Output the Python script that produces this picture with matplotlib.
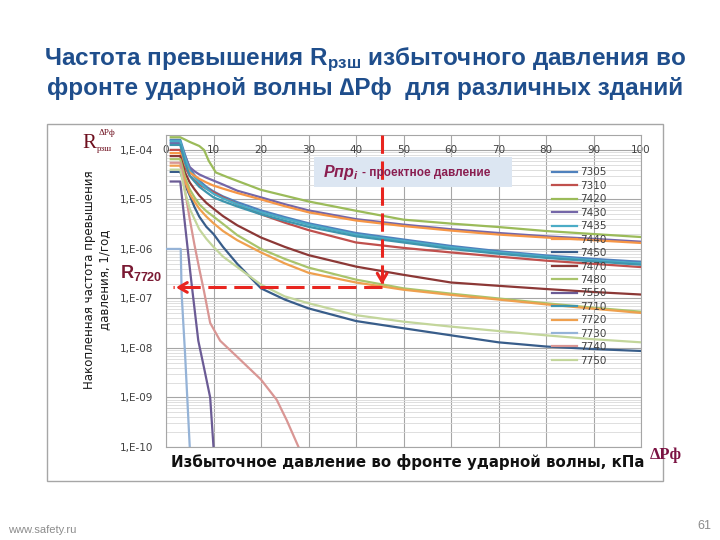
import matplotlib
matplotlib.use('Agg')
import numpy as np
import matplotlib.pyplot as plt
from matplotlib.patches import Rectangle
from matplotlib.ticker import LogLocator, FuncFormatter, NullFormatter, MultipleLocator

plt.rcParams['font.family'] = ['DejaVu Sans']
plt.rcParams['mathtext.fontset'] = 'custom'
plt.rcParams['mathtext.rm'] = 'Liberation Sans:bold'
plt.rcParams['mathtext.it'] = 'Liberation Sans:bold:italic'
plt.rcParams['mathtext.bf'] = 'Liberation Sans:bold'

# --- данные ---
x_std = [1, 3, 4, 5, 6, 7, 8.5, 10, 12, 15, 20, 25, 30, 40, 50, 60, 70, 80, 90, 100]

y_7305 = [1.6e-4, 1.6e-4, 8e-5, 4.2e-5, 3.1e-5, 2.4e-5, 1.8e-5, 1.45e-5, 1.15e-5, 8.8e-6, 6.0e-6, 4.4e-6, 3.3e-6, 2.1e-6, 1.55e-6, 1.15e-6, 9.0e-7, 7.4e-7, 6.3e-7, 5.5e-7]
y_7310 = [1.0e-4, 1.0e-4, 4.5e-5, 3.0e-5, 2.4e-5, 2.0e-5, 1.65e-5, 1.4e-5, 1.1e-5, 8.0e-6, 5.0e-6, 3.4e-6, 2.4e-6, 1.35e-6, 1.05e-6, 8.5e-7, 7.0e-7, 5.8e-7, 5.0e-7, 4.3e-7]
x_7420 = [1, 3, 5, 7, 8, 9, 10.5, 13, 20, 30, 40, 50, 60, 70, 80, 90, 100]
y_7420 = [1.8e-4, 1.8e-4, 1.45e-4, 1.2e-4, 1.0e-4, 6e-5, 3.5e-5, 2.8e-5, 1.56e-5, 9.1e-6, 5.9e-6, 3.9e-6, 3.25e-6, 2.77e-6, 2.3e-6, 2.0e-6, 1.74e-6]
y_7430 = [1.38e-4, 1.38e-4, 7.5e-5, 4.5e-5, 3.7e-5, 3.2e-5, 2.75e-5, 2.4e-5, 2.0e-5, 1.5e-5, 1.1e-5, 8.0e-6, 6.0e-6, 4.0e-6, 3.1e-6, 2.5e-6, 2.1e-6, 1.8e-6, 1.6e-6, 1.4e-6]
y_7435 = [1.5e-4, 1.5e-4, 7e-5, 3.8e-5, 2.8e-5, 2.2e-5, 1.65e-5, 1.3e-5, 1.05e-5, 8.0e-6, 5.5e-6, 4.1e-6, 3.1e-6, 1.95e-6, 1.45e-6, 1.08e-6, 8.5e-7, 7.0e-7, 5.9e-7, 5.1e-7]
y_7440 = [8.6e-5, 8.6e-5, 5.0e-5, 3.5e-5, 3.0e-5, 2.6e-5, 2.2e-5, 1.9e-5, 1.65e-5, 1.35e-5, 1.0e-5, 7.3e-6, 5.5e-6, 3.75e-6, 2.9e-6, 2.35e-6, 1.95e-6, 1.7e-6, 1.5e-6, 1.32e-6]
y_7450 = [3.6e-5, 3.6e-5, 2.0e-5, 1.2e-5, 7e-6, 4.5e-6, 2.8e-6, 2.0e-6, 1.1e-6, 5.0e-7, 1.6e-7, 9.5e-8, 6.3e-8, 3.5e-8, 2.5e-8, 1.8e-8, 1.3e-8, 1.07e-8, 9.5e-9, 8.7e-9]
y_7470 = [7.5e-5, 7.5e-5, 3.5e-5, 2.2e-5, 1.6e-5, 1.2e-5, 8.5e-6, 6.5e-6, 4.6e-6, 3.0e-6, 1.7e-6, 1.1e-6, 7.5e-7, 4.4e-7, 3.0e-7, 2.1e-7, 1.8e-7, 1.55e-7, 1.35e-7, 1.2e-7]
y_7480 = [6.5e-5, 6.5e-5, 2.8e-5, 1.6e-5, 1.1e-5, 8e-6, 5.8e-6, 4.5e-6, 3.2e-6, 1.9e-6, 1.0e-6, 6.3e-7, 4.2e-7, 2.4e-7, 1.6e-7, 1.25e-7, 1.0e-7, 8.0e-8, 6.5e-8, 5.4e-8]
x_7550 = [1, 3, 4, 5, 5.5, 6.8, 8, 9.3, 10]
y_7550 = [2.3e-5, 2.3e-5, 3.1e-6, 4.2e-7, 1.6e-7, 1.4e-8, 4e-9, 1e-9, 1e-10]
y_7710 = [1.26e-4, 1.26e-4, 5.5e-5, 3.0e-5, 2.3e-5, 1.8e-5, 1.4e-5, 1.1e-5, 9.2e-6, 7.2e-6, 5.0e-6, 3.7e-6, 2.8e-6, 1.8e-6, 1.35e-6, 1.0e-6, 8.0e-7, 6.6e-7, 5.6e-7, 4.8e-7]
y_7720 = [4.8e-5, 4.8e-5, 2.3e-5, 1.3e-5, 9e-6, 6.5e-6, 4.5e-6, 3.3e-6, 2.3e-6, 1.5e-6, 8.5e-7, 5.1e-7, 3.3e-7, 2.1e-7, 1.5e-7, 1.18e-7, 9.5e-8, 7.6e-8, 6.2e-8, 5.1e-8]
x_7730 = [0, 3.1, 3.3, 4, 5]
y_7730 = [1e-6, 1e-6, 1.2e-7, 8e-9, 1e-10]
x_7740 = [1, 3, 4, 5, 6, 7, 8, 9.3, 11.4, 15, 20, 23.3, 25.4, 27.9]
y_7740 = [5.5e-5, 5.5e-5, 1.5e-5, 4e-6, 1.2e-6, 4e-7, 1.4e-7, 3.2e-8, 1.4e-8, 6.6e-9, 2.3e-9, 9e-10, 3.5e-10, 1e-10]
y_7750 = [4.0e-5, 4.0e-5, 1.4e-5, 6.5e-6, 4.0e-6, 2.5e-6, 1.6e-6, 1.1e-6, 7.0e-7, 4.3e-7, 1.9e-7, 1.1e-7, 8.0e-8, 4.6e-8, 3.4e-8, 2.7e-8, 2.2e-8, 1.8e-8, 1.5e-8, 1.3e-8]

p_design = 45.5      # проектное давление, кПа
r_7720 = 1.67e-7     # R для 7720 при проектном давлении
arrow_end = 1.5

series = [
    ('7305', x_std, y_7305, '#4F81BD'),
    ('7310', x_std, y_7310, '#C0504D'),
    ('7420', x_7420, y_7420, '#9BBB59'),
    ('7430', x_std, y_7430, '#7466A8'),
    ('7435', x_std, y_7435, '#4BACC6'),
    ('7440', x_std, y_7440, '#F79646'),
    ('7450', x_std, y_7450, '#385D8A'),
    ('7470', x_std, y_7470, '#8C3836'),
    ('7480', x_std, y_7480, '#A9C46C'),
    ('7550', x_7550, y_7550, '#6B5B95'),
    ('7710', x_std, y_7710, '#3E95AD'),
    ('7720', x_std, y_7720, '#EFA04E'),
    ('7730', x_7730, y_7730, '#95B3D7'),
    ('7740', x_7740, y_7740, '#D99694'),
    ('7750', x_std, y_7750, '#C3D69B'),
]

fig = plt.figure(figsize=(7.2, 5.4), dpi=100)
ax = fig.add_axes([166/720, 1-447/540, 475/720, 312/540])

for name, xs, ys, c in series:
    ax.plot(xs, ys, color=c, lw=1.6, label=name, zorder=3)

ax.set_yscale('log')
ax.set_ylim(1e-10, 2e-4)
ax.set_xlim(0, 100)
ax.xaxis.set_major_locator(MultipleLocator(10))
ax.xaxis.set_major_formatter(NullFormatter())
ax.yaxis.set_major_locator(LogLocator(base=10, numticks=20))
ax.yaxis.set_minor_locator(LogLocator(base=10, subs=np.arange(2, 10), numticks=20))
ax.yaxis.set_minor_formatter(NullFormatter())
ax.yaxis.set_major_formatter(FuncFormatter(lambda v, p: '1,E-%02d' % round(-np.log10(v))))
ax.tick_params(which='both', length=0, labelsize=7.5, labelcolor='#404040', pad=9)
ax.grid(which='major', color='#a6a6a6', lw=0.8, zorder=0)
ax.grid(which='minor', axis='y', color='#d9d9d9', lw=0.6, zorder=0)
for s in ax.spines.values():
    s.set_color('#a6a6a6')
    s.set_linewidth(0.8)

# подписи оси X на уровне 1E-04
for xv in range(0, 101, 10):
    ax.text(xv, 1e-4, str(xv), ha='center', va='center', fontsize=7.5, color='#404040', zorder=2)

leg = ax.legend(frameon=False, fontsize=7.5, loc='upper left', bbox_to_anchor=(0.8126, 0.896),
                borderaxespad=0, borderpad=0, handlelength=2.4, handletextpad=0.3,
                labelspacing=0.33, labelcolor='#404040')

# плашка "Рпр"
ax.add_patch(Rectangle((0.3116, 0.8333), 0.4168, 0.0962, transform=ax.transAxes,
                       facecolor='#dce6f2', edgecolor='none', zorder=4))
red_txt = '#8a1e50'
fig.text(323/720, 1-172/540, r'Рпр$_{\mathit{i}}$', fontsize=11.5, fontweight='bold', style='italic',
         family='Liberation Sans', color=red_txt, va='center', ha='left')
fig.text(362/720, 1-173/540, '- проектное давление', fontsize=8.5, fontweight='bold',
         family='Liberation Sans', color=red_txt, va='center', ha='left')

# красные стрелки
red = '#E8251F'
ax.plot([p_design, p_design], [2e-4, r_7720], ls=(0, (6, 2.5)), color=red, lw=2.2, zorder=5)
ax.plot([p_design, arrow_end], [r_7720, r_7720], ls=(0, (6, 2.5)), color=red, lw=2.2, zorder=5)
ax.annotate('', xy=(p_design, r_7720), xytext=(0, 10), textcoords='offset points',
            arrowprops=dict(arrowstyle='->,head_length=0.6,head_width=0.35', color=red, lw=2.2), zorder=6)
ax.annotate('', xy=(arrow_end, r_7720), xytext=(10, 0), textcoords='offset points',
            arrowprops=dict(arrowstyle='->,head_length=0.6,head_width=0.35', color=red, lw=2.2), zorder=6)

# рамка вставленного графика
fig.add_artist(Rectangle((47/720, 1-481/540), 616/720, 357/540, transform=fig.transFigure,
                         fill=False, ec='#a6a6a6', lw=1))

# подписи осей
fig.text(97/720, 1-280/540, 'Накопленная частота превышения\nдавления, 1/год', rotation=90,
         ha='center', va='center', fontsize=8.5, color='#1a1a1a', linespacing=1.3)
fig.text(171/720, 1-462/540, 'Избыточное давление во фронте ударной волны, кПа', ha='left', va='center',
         fontsize=10.8, fontweight='bold', color='#111111')
fig.text(650/720, 1-455/540, 'ΔPф', ha='left', va='center', fontsize=12, fontweight='bold',
         family='Liberation Serif', color='#7b1343')

# R с индексами в левом верхнем углу
dark_red = '#6e0f1e'
fig.text(82/720, 1-143/540, 'R', ha='left', va='center', fontsize=15, family='Liberation Serif', color=dark_red)
fig.text(99/720, 1-133/540, 'ΔPф', ha='left', va='center', fontsize=6.5, family='Liberation Serif', color=dark_red)
fig.text(97/720, 1-149/540, 'рзш', ha='left', va='center', fontsize=6.5, family='Liberation Serif', color=dark_red)

fig.text(120/720, 1-273/540, r'R$_{\mathrm{7720}}$', ha='left', va='center', fontsize=13,
         fontweight='bold', family='Liberation Sans', color='#7a1a33')

# заголовок
title_c = '#1f4e8c'
fig.text(0.507, 1-60/540, r'Частота превышения R$_{\mathrm{рзш}}$ избыточного давления во',
         ha='center', va='center', fontsize=17.5, fontweight='bold', family='Liberation Sans', color=title_c)
fig.text(0.507, 1-88/540, 'фронте ударной волны ∆Рф  для различных зданий',
         ha='center', va='center', fontsize=17.5, fontweight='bold', family='Liberation Sans', color=title_c)

fig.text(8/720, 1-530/540, 'www.safety.ru', ha='left', va='center', fontsize=8, color='#8c8c8c',
         family='Liberation Sans')
fig.text(711/720, 1-526/540, '61', ha='right', va='center', fontsize=9, color='#8c8c8c',
         family='Liberation Sans')

fig.savefig('out.png', dpi=100)
